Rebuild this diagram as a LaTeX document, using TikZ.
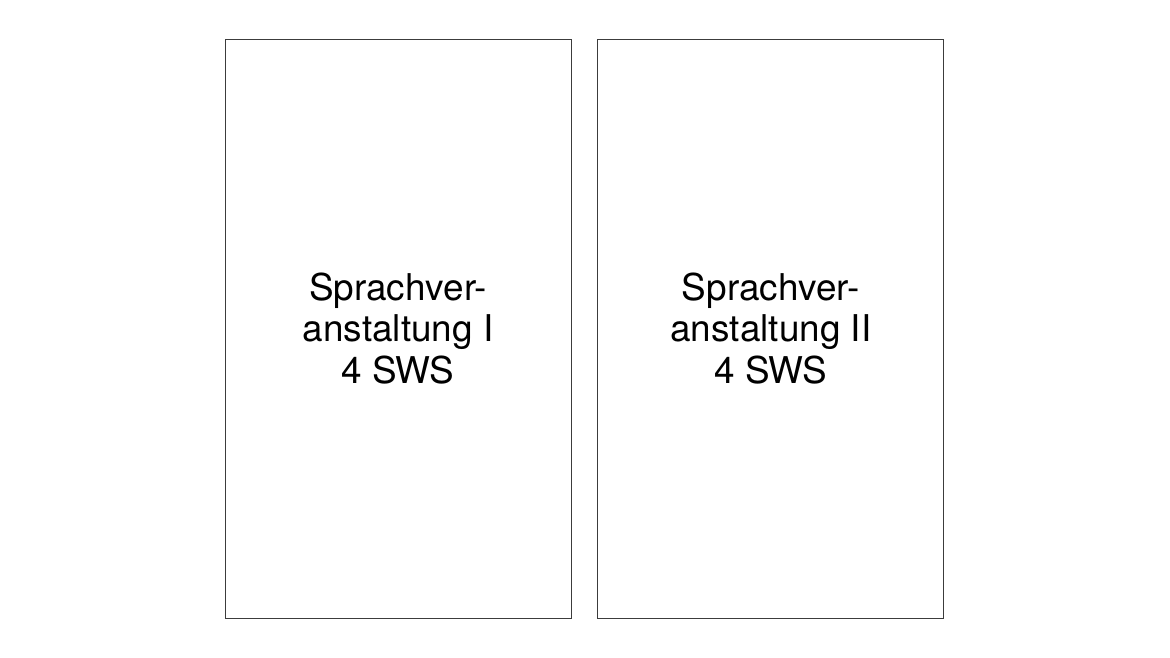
\documentclass[tikz,border=0pt]{standalone}
\usepackage{fontspec}
\setmainfont{TeX Gyre Heros}
\usetikzlibrary{positioning}
\definecolor{rahmen}{RGB}{60,60,60}
\tikzset{
  kurs/.style={draw=rahmen, line width=0.5pt, minimum width=6.92cm, minimum height=11.58cm,
    align=center, font=\fontsize{21}{23.5}\selectfont, inner sep=0pt}
}
\begin{document}
\begin{tikzpicture}
    % bounding box
    \useasboundingbox (0,0) rectangle (23.4,13.16);

    % draw boxes
    \node[kurs] (links) at (7.96,6.59) {Sprachver-\\anstaltung I\\4 SWS};
    \node[kurs, right=0.52cm of links] (rechts) {Sprachver-\\anstaltung II\\4 SWS};

  \end{tikzpicture}
\end{document}
